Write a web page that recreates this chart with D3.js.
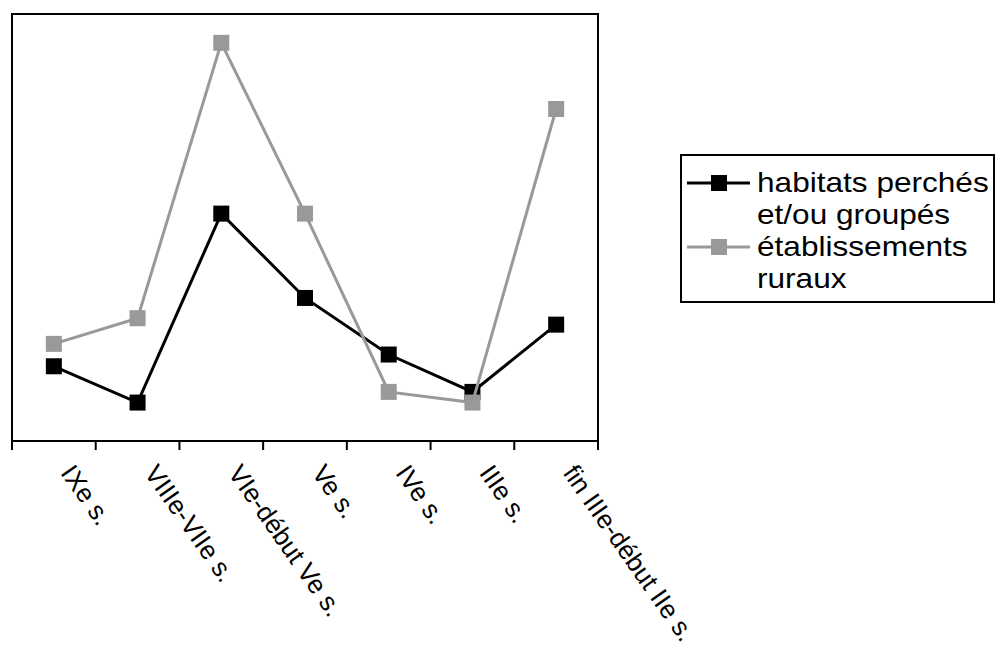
<!DOCTYPE html>
<html>
<head>
<meta charset="utf-8">
<script src="https://cdn.jsdelivr.net/npm/d3@7"></script>
<style>
  html, body { margin: 0; padding: 0; background: #fff; }
  svg { display: block; font-family: "Liberation Sans", Arial, sans-serif; }
</style>
</head>
<body>
<svg id="chart" width="996" height="646"></svg>
<script>
// Periods on the horizontal axis
const periods = ["IXe s.", "VIIIe-VIIe s.", "VIe-début Ve s.", "Ve s.", "IVe s.", "IIIe s.", "fin IIIe-début IIe s."];

// Series values, one per period
const habitatsPerches = [7.0, 3.6, 21.3, 13.4, 8.1, 4.6, 10.9];
const etablissementsRuraux = [9.1, 11.5, 37.3, 21.3, 4.6, 3.6, 31.1];

const seriesNames = ["habitats perchés\net/ou groupés", "établissements\nruraux"];
const seriesColors = ["#000000", "#999999"];
const yMax = 40;

const series = [
  { name: seriesNames[0], values: habitatsPerches, color: seriesColors[0] },
  { name: seriesNames[1], values: etablissementsRuraux, color: seriesColors[1] }
];

const svg = d3.select("#chart");
const plot = { left: 12, right: 598, top: 14, bottom: 441 };

const x = d3.scaleBand().domain(periods).range([plot.left, plot.right]).padding(0);
const y = d3.scaleLinear().domain([0, yMax]).range([plot.bottom, plot.top]);
const cx = d => x(d) + x.bandwidth() / 2;

// Plot frame
svg.append("rect")
  .attr("x", plot.left).attr("y", plot.top)
  .attr("width", plot.right - plot.left).attr("height", plot.bottom - plot.top)
  .attr("fill", "none").attr("stroke", "#000").attr("stroke-width", 2);

// Category axis with ticks at band edges
const xAxis = svg.append("g").attr("transform", `translate(0,${plot.bottom})`);
const edges = periods.map(p => x(p)).concat([plot.right]);
xAxis.append("line")
  .attr("x1", plot.left).attr("x2", plot.right)
  .attr("stroke", "#000").attr("stroke-width", 2);
xAxis.selectAll("line.tick").data(edges).join("line")
  .attr("class", "tick")
  .attr("x1", d => d).attr("x2", d => d)
  .attr("y1", 0).attr("y2", 9)
  .attr("stroke", "#000").attr("stroke-width", 2);
xAxis.selectAll("text").data(periods).join("text")
  .attr("transform", d => `translate(${cx(d) + 6},${32}) rotate(55)`)
  .attr("font-size", 26)
  .attr("text-anchor", "start")
  .attr("fill", "#000")
  .text(d => d);

// Lines and square markers
const line = d3.line().x((v, i) => cx(periods[i])).y(v => y(v));
const mk = 16;
series.forEach(s => {
  const g = svg.append("g");
  g.append("path")
    .attr("d", line(s.values))
    .attr("fill", "none").attr("stroke", s.color).attr("stroke-width", 3);
  g.selectAll("rect").data(s.values).join("rect")
    .attr("x", (v, i) => cx(periods[i]) - mk / 2)
    .attr("y", v => y(v) - mk / 2)
    .attr("width", mk).attr("height", mk)
    .attr("fill", s.color);
});

// Legend
const legend = svg.append("g");
legend.append("rect")
  .attr("x", 681).attr("y", 155).attr("width", 313).attr("height", 147)
  .attr("fill", "#fff").attr("stroke", "#000").attr("stroke-width", 2);
series.forEach((s, i) => {
  const ly = 183 + i * 64;
  legend.append("line")
    .attr("x1", 687).attr("x2", 750).attr("y1", ly).attr("y2", ly)
    .attr("stroke", s.color).attr("stroke-width", 3);
  legend.append("rect")
    .attr("x", 711).attr("y", ly - 8).attr("width", 16).attr("height", 16)
    .attr("fill", s.color);
  const t = legend.append("text")
    .attr("transform", `translate(757,${ly}) scale(1.17,1)`)
    .attr("font-size", 27).attr("fill", "#000");
  s.name.split("\n").forEach((ln, j) => {
    t.append("tspan").attr("x", 0).attr("dy", j === 0 ? "0.35em" : 32).text(ln);
  });
});
</script>
</body>
</html>
